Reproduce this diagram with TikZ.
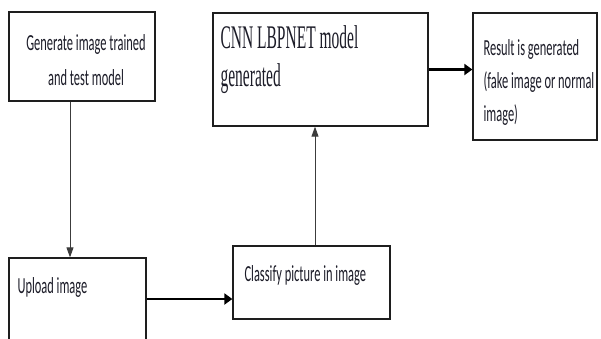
\documentclass[tikz,border=0pt]{standalone}
\usepackage{fontspec}
\usepackage{xcolor}
\usepackage{tikz}
\usetikzlibrary{arrows.meta,positioning}
\newfontfamily\bodyfont[FakeStretch=0.54]{Carlito}
\newfontfamily\titlefont[FakeStretch=0.47]{Liberation Serif}
\definecolor{ink}{RGB}{28,28,40}
\definecolor{edge}{RGB}{30,30,30}
\definecolor{wire}{RGB}{60,60,60}

\begin{document}
\begin{tikzpicture}[
    x=1pt, y=-1pt,
    box/.style={rectangle, draw=edge, line width=1.3pt, inner sep=0pt},
    txt/.style={inner sep=0pt, text=ink, align=left, anchor=base west,
        font=\bodyfont\fontsize{23}{34}\selectfont},
    link/.style={draw=wire, line width=0.9pt, -{Triangle[length=10pt,width=7pt]}},
    heavy link/.style={draw=black, line width=2.2pt, -{Triangle[length=8pt,width=11pt]}}
]
    \useasboundingbox[fill=white] (0,0) rectangle (601,338);

    % boxes
    \node[box, minimum width=146pt, minimum height=89pt] (gen) at (82,56.5) {};
    \node[box, minimum width=215pt, minimum height=113pt] (cnn) at (320.5,69.5) {};
    \node[box, minimum width=124pt, minimum height=127pt] (res) at (535,76.5) {};
    \node[box, minimum width=137pt, minimum height=82pt] (upl) at (77.5,299) {};
    \node[box, minimum width=157pt, minimum height=73pt] (cls) at (311.5,282.5) {};

    % texts (base = last line)
    \node[txt, align=center, anchor=base, font=\bodyfont\fontsize{23}{35}\selectfont] (gen-txt)
        at ([xshift=4pt,yshift=-74.5pt]gen.north) {Generate image trained\\and test model};
    \node[txt, font=\titlefont\fontsize{33}{37.5}\selectfont] (cnn-txt)
        at ([xshift=8pt,yshift=-73.7pt]cnn.north west) {CNN LBPNET model\\generated};
    \node[txt, font=\bodyfont\fontsize{23}{32.6}\selectfont] (res-txt)
        at ([xshift=11pt,yshift=-108.7pt]res.north west)
        {Result is generated\\(fake image or normal\\image)};
    \node[txt] (upl-txt) at ([xshift=9pt,yshift=-36pt]upl.north west) {Upload image};
    \node[txt] (cls-txt) at ([xshift=12pt,yshift=-35.7pt]cls.north west) {Classify picture in image};

    % connectors
    \draw[link] ([xshift=-12pt]gen.south) -- ([xshift=-12pt]gen.south |- upl.north);
    \draw[heavy link] (upl.east) -- (upl.east -| cls.west);
    \draw[link] ([xshift=3.5pt]cls.north) -- ([xshift=3.5pt]cls.north |- cnn.south);
    \draw[heavy link] (cnn.east) -- (cnn.east -| res.west);
\end{tikzpicture}
\end{document}
